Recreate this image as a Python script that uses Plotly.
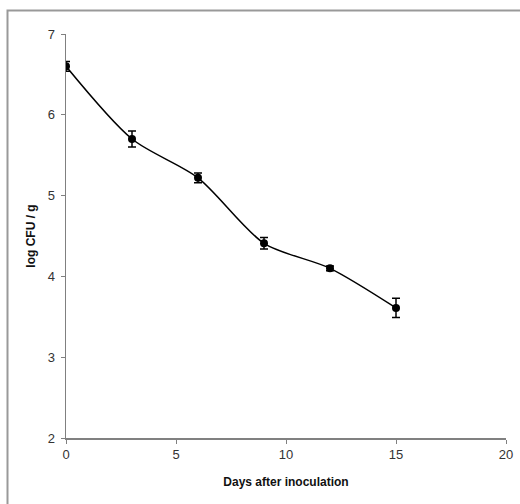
import plotly.graph_objects as go

days = [0, 3, 6, 9, 12, 15]
log_cfu = [6.60, 5.70, 5.22, 4.41, 4.10, 3.61]
sd = [0.06, 0.10, 0.06, 0.07, 0.03, 0.12]

x_ticks = [0, 5, 10, 15, 20]
y_ticks = [2, 3, 4, 5, 6, 7]

W, H = 520, 504
L, R, T, B = 66, 14, 34, 66
pw, ph = W - L - R, H - T - B

fig = go.Figure()
fig.add_trace(go.Scatter(
    x=days, y=log_cfu,
    mode="lines+markers",
    line=dict(color="black", width=1.5, shape="spline", smoothing=0.8),
    marker=dict(color="black", size=8),
    error_y=dict(type="data", array=sd, visible=True, color="black", thickness=1.5, width=4),
    showlegend=False,
    hoverinfo="skip",
))

def px2x(px):
    return (px - L) / pw

def py2y(py):
    return (H - B - py) / ph

fig.add_shape(type="rect", xref="paper", yref="paper",
              x0=px2x(7.5), x1=px2x(526), y0=py2y(515), y1=py2y(10.5),
              line=dict(color="#999999", width=2), fillcolor="rgba(0,0,0,0)", layer="below")

axis_common = dict(
    showgrid=False, zeroline=False, showline=True, linecolor="#808080", linewidth=1.5,
    ticks="outside", ticklen=4, tickcolor="#808080", tickwidth=1,
    tickfont=dict(family="Liberation Sans, Arial", size=13, color="#333333"),
)

fig.update_xaxes(range=[0, 20], tickvals=x_ticks, **axis_common,
                 title=dict(text="<b>Days after inoculation</b>", standoff=16,
                            font=dict(family="Liberation Sans, Arial", size=12, color="#111111")))
fig.update_yaxes(range=[2, 7], tickvals=y_ticks, ticklabelstandoff=3, **axis_common,
                 title=dict(text="<b>log CFU / g</b>", standoff=9,
                            font=dict(family="Liberation Sans, Arial", size=12, color="#111111")))

fig.update_layout(
    width=W, height=H,
    margin=dict(l=L, r=R, t=T, b=B, autoexpand=False),
    paper_bgcolor="white", plot_bgcolor="white",
    hovermode=False,
)

fig.write_html("out.html", config={"displayModeBar": False, "staticPlot": True},
               post_script="document.body.style.margin='0';")
